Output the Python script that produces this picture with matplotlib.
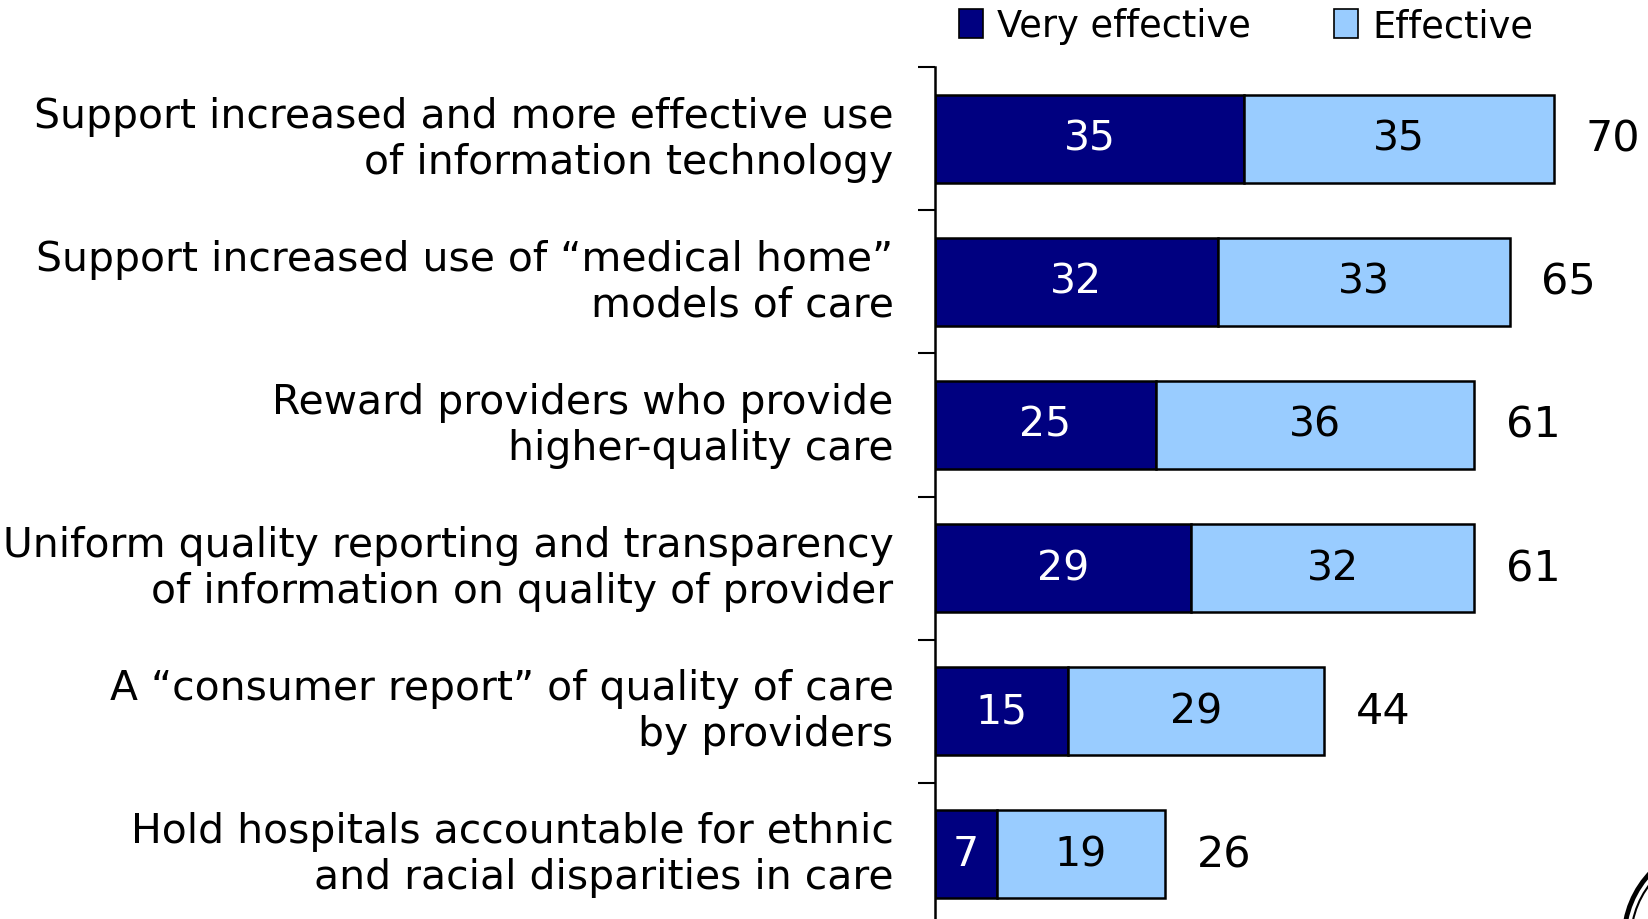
import matplotlib
matplotlib.use("Agg")
import matplotlib.pyplot as plt
from matplotlib.patches import Circle

categories = [
    "Support increased and more effective use\nof information technology",
    "Support increased use of \u201cmedical home\u201d\nmodels of care",
    "Reward providers who provide\nhigher-quality care",
    "Uniform quality reporting and transparency\nof information on quality of provider",
    "A \u201cconsumer report\u201d of quality of care\nby providers",
    "Hold hospitals accountable for ethnic\nand racial disparities in care",
]
very_effective = [35, 32, 25, 29, 15, 7]
effective = [35, 33, 36, 32, 29, 19]
totals = [70, 65, 61, 61, 44, 26]
series_names = ["Very effective", "Effective"]

W, H = 1649, 920
fig = plt.figure(figsize=(W / 100, H / 100), dpi=100)
plt.rcParams['font.family'] = ['DejaVu Sans']

ax_left = 935 / W
ax_top = 1 - 68.4 / H
ax_bottom = 1 - 926.6 / H
ax_right = 1.0
ax = fig.add_axes([ax_left, ax_bottom, ax_right - ax_left, ax_top - ax_bottom])
xmax = (W - 935) / 8.84
ax.set_xlim(0, xmax)
n = len(categories)
ax.set_ylim(n - 0.5, -0.5)

ys = list(range(n))
bh = 0.615
navy = "#000080"
light = "#99CCFF"
ax.barh(ys, very_effective, height=bh, color=navy, edgecolor="black", linewidth=1.8, label=series_names[0])
ax.barh(ys, effective, left=very_effective, height=bh, color=light, edgecolor="black", linewidth=1.8, label=series_names[1])

for y, v, e, t in zip(ys, very_effective, effective, totals):
    ax.text(v / 2, y, str(v), ha="center", va="center", color="white", fontsize=29.5)
    ax.text(v + e / 2, y, str(e), ha="center", va="center", color="black", fontsize=29.5)
    ax.text(t + 3.6, y, str(t), ha="left", va="center", color="black", fontsize=31)

ax.set_yticks([i + 0.5 for i in range(-1, n - 1)])
ax.set_yticklabels([])
ax.tick_params(axis="y", length=12, width=1.5, direction="out")
ax.set_xticks([])
for sp in ["top", "right", "bottom"]:
    ax.spines[sp].set_visible(False)
ax.spines["left"].set_linewidth(1.8)

for y, c in zip(ys, categories):
    ax.text(-4.7, y + 0.0, c, ha="right", va="center", fontsize=29.4, linespacing=1.17,
            transform=ax.transData, clip_on=False)

leg = fig.legend(loc="upper left", bbox_to_anchor=(944 / W, 1.0072), ncol=2, frameon=False,
                 fontsize=26.5, handlelength=0.65, handleheight=0.85, handletextpad=0.4,
                 columnspacing=2.25, borderaxespad=0)
for h in leg.legend_handles:
    h.set_edgecolor("black")
    h.set_linewidth(1.2)

# partial logo circle at bottom-right
for r, lw in [(96, 3.5), (89, 1.5)]:
    c = Circle((0, 0), 1, fill=False, edgecolor="black", linewidth=lw)
    c.set_transform(fig.dpi_scale_trans)
    c.center = (1720 / 100, (H - 940) / 100)
    c.radius = r / 100
    fig.add_artist(c)

fig.savefig("out.png", dpi=100)
